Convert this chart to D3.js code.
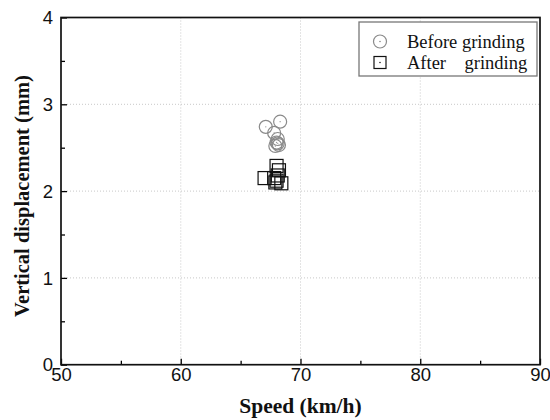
<!DOCTYPE html>
<html><head><meta charset="utf-8">
<script src="https://cdn.jsdelivr.net/npm/d3@7"></script>
<style>body{margin:0;background:#fff}</style>
</head><body>
<svg id="c" width="550" height="420"></svg>
<script>
const xTicks = [50, 60, 70, 80, 90];
const yTicks = [0, 1, 2, 3, 4];
const beforeSpeed = [67.1, 68.3, 67.8, 68.1, 68.0, 68.2, 67.9, 68.1];
const beforeDisp  = [2.74, 2.80, 2.67, 2.60, 2.56, 2.53, 2.52, 2.55];
const afterSpeed = [68.0, 68.2, 67.0, 67.8, 68.0, 68.4, 67.9, 68.1];
const afterDisp  = [2.29, 2.24, 2.15, 2.15, 2.12, 2.09, 2.10, 2.18];
const seriesNames = ["Before grinding", "After    grinding"];

const svg = d3.select("#c");
const L = 61, R = 540, T = 17.5, B = 364.7;
const x = d3.scaleLinear().domain([50, 90]).range([L, R]);
const y = d3.scaleLinear().domain([0, 4]).range([B, T]);

// grid
const g = svg.append("g");
g.selectAll(".gx").data(xTicks.slice(1, -1)).enter().append("line")
  .attr("x1", d => x(d)).attr("x2", d => x(d)).attr("y1", T).attr("y2", B)
  .attr("stroke", "#c8c8c8").attr("stroke-width", 1).attr("stroke-dasharray", "1,2");
g.selectAll(".gy").data(yTicks.slice(1, -1)).enter().append("line")
  .attr("y1", d => y(d)).attr("y2", d => y(d)).attr("x1", L).attr("x2", R)
  .attr("stroke", "#c8c8c8").attr("stroke-width", 1).attr("stroke-dasharray", "1,2");

// axes
const fontTick = "Liberation Sans, Arial, sans-serif";
const xAxis = d3.axisBottom(x).tickValues(d3.range(50, 91, 5)).tickSize(-6)
  .tickFormat(d => xTicks.includes(d) ? d : "");
const xg = svg.append("g").attr("transform", `translate(0,${B})`).call(xAxis);
xg.selectAll(".tick line").attr("y2", d => xTicks.includes(d) ? -6 : -4).attr("stroke-width", 1.3);
xg.selectAll("text").attr("font-family", fontTick).attr("font-size", 18.5).attr("fill", "#111").attr("dy", "0.71em").attr("y", 3.5);
xg.select(".domain").remove();

const yAxis = d3.axisLeft(y).tickValues(d3.range(0, 4.01, 0.5)).tickSize(-6)
  .tickFormat(d => Number.isInteger(d) ? d : "");
const yg = svg.append("g").attr("transform", `translate(${L},0)`).call(yAxis);
yg.selectAll(".tick line").attr("x2", d => Number.isInteger(d) ? 6 : 4).attr("stroke-width", 1.3);
yg.selectAll("text").attr("font-family", fontTick).attr("font-size", 18.5).attr("fill", "#111").attr("x", -8).attr("dy", "0.34em");
yg.select(".domain").remove();

// frame
svg.append("rect").attr("x", L).attr("y", T).attr("width", R - L).attr("height", B - T)
  .attr("fill", "none").attr("stroke", "#111").attr("stroke-width", 1.7);

// points
const before = beforeSpeed.map((s, i) => ({ s, v: beforeDisp[i] }));
const after = afterSpeed.map((s, i) => ({ s, v: afterDisp[i] }));
const pc = svg.append("g");
pc.selectAll("circle.b").data(before).enter().append("circle")
  .attr("cx", d => x(d.s)).attr("cy", d => y(d.v)).attr("r", 6.5)
  .attr("fill", "none").attr("stroke", "#8a8a8a").attr("stroke-width", 1.2);
pc.selectAll("circle.bd").data(before).enter().append("circle")
  .attr("cx", d => x(d.s)).attr("cy", d => y(d.v)).attr("r", 0.7).attr("fill", "#999");
const ps = svg.append("g");
ps.selectAll("rect").data(after).enter().append("rect")
  .attr("x", d => x(d.s) - 6.5).attr("y", d => y(d.v) - 6.5).attr("width", 13).attr("height", 13)
  .attr("fill", "none").attr("stroke", "#111").attr("stroke-width", 1.2);

// legend
const lg = svg.append("g");
lg.append("rect").attr("x", 359).attr("y", 22).attr("width", 178).attr("height", 54)
  .attr("fill", "#fff").attr("stroke", "#777").attr("stroke-width", 1.3);
lg.append("circle").attr("cx", 380).attr("cy", 41.5).attr("r", 6.5).attr("fill", "none").attr("stroke", "#8a8a8a").attr("stroke-width", 1.2);
lg.append("circle").attr("cx", 380).attr("cy", 41.5).attr("r", 0.8).attr("fill", "#888");
lg.append("rect").attr("x", 374).attr("y", 56.5).attr("width", 12).attr("height", 12).attr("fill", "none").attr("stroke", "#111").attr("stroke-width", 1.2);
lg.append("circle").attr("cx", 380).attr("cy", 62.5).attr("r", 0.8).attr("fill", "#222");
lg.selectAll("text").data(seriesNames).enter().append("text")
  .attr("x", 407).attr("y", (d, i) => 48 + i * 21).attr("xml:space", "preserve")
  .attr("font-family", "Liberation Serif, Times New Roman, serif").attr("font-size", 18.5).attr("fill", "#111")
  .text(d => d);

// axis titles
svg.append("text").attr("x", (L + R) / 2).attr("y", 413).attr("text-anchor", "middle")
  .attr("font-family", "Liberation Serif, Times New Roman, serif").attr("font-weight", "bold").attr("font-size", 21.5)
  .attr("fill", "#111").text("Speed (km/h)");
svg.append("text").attr("transform", `translate(29,196) rotate(-90)`).attr("text-anchor", "middle")
  .attr("font-family", "Liberation Serif, Times New Roman, serif").attr("font-weight", "bold").attr("font-size", 20.5)
  .attr("fill", "#111").text("Vertical displacement (mm)");
</script>
</body></html>
